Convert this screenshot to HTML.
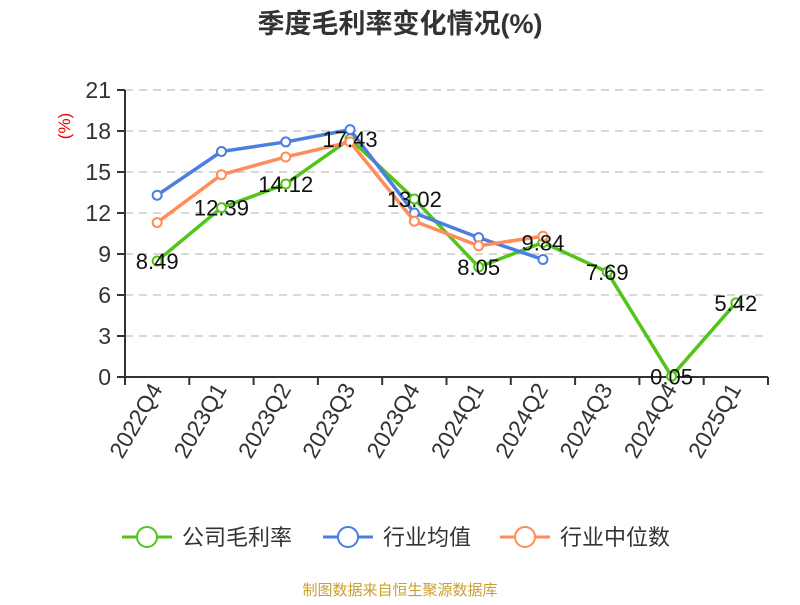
<!DOCTYPE html>
<html><head><meta charset="utf-8"><style>
body{margin:0;background:#fff;font-family:"Liberation Sans","Noto Sans CJK SC",sans-serif}
</style></head><body>
<svg id="c" width="800" height="600" font-family="Liberation Sans, Noto Sans CJK SC, sans-serif">
<text x="400" y="33" text-anchor="middle" font-size="27" font-weight="bold" fill="#333">季度毛利率变化情况(%)</text>
<text transform="translate(70,126) rotate(-90)" text-anchor="middle" font-size="17" fill="#e00">(%)</text>
<g id="grid"></g><g id="axes"></g><g id="series"></g><g id="labels"></g>
<g>
<g><line x1="122" y1="537" x2="172" y2="537" stroke="#52c41a" stroke-width="3"/><circle cx="147" cy="537" r="10" fill="#fff" stroke="#52c41a" stroke-width="2"/><text x="182" y="545" font-size="22" fill="#333">公司毛利率</text></g>
<g><line x1="323" y1="537" x2="373" y2="537" stroke="#4a7fe0" stroke-width="3"/><circle cx="348" cy="537" r="10" fill="#fff" stroke="#4a7fe0" stroke-width="2"/><text x="383" y="545" font-size="22" fill="#333">行业均值</text></g>
<g><line x1="500" y1="537" x2="550" y2="537" stroke="#ff8c5a" stroke-width="3"/><circle cx="525" cy="537" r="10" fill="#fff" stroke="#ff8c5a" stroke-width="2"/><text x="560" y="545" font-size="22" fill="#333">行业中位数</text></g>
</g>
<text x="400" y="595" text-anchor="middle" font-size="15" fill="#c8a030">制图数据来自恒生聚源数据库</text>
</svg>
<script>
const categories=["2022Q4","2023Q1","2023Q2","2023Q3","2023Q4","2024Q1","2024Q2","2024Q3","2024Q4","2025Q1"];
const company=[8.49,12.39,14.12,17.43,13.02,8.05,9.84,7.69,0.05,5.42];
const industryAvg=[13.3,16.5,17.2,18.1,12.0,10.2,8.6];
const industryMedian=[11.3,14.8,16.1,17.2,11.4,9.6,10.3];
const yTicks=[0,3,6,9,12,15,18,21];
const NS="http://www.w3.org/2000/svg";
const x0=125,x1=768,y0=377,yT=90,yMax=21;
const bw=(x1-x0)/categories.length;
const X=i=>x0+bw*(i+0.5);
const Y=v=>y0-(v/yMax)*(y0-yT);
function mk(tag,attrs,parent){const e=document.createElementNS(NS,tag);for(const k in attrs)e.setAttribute(k,attrs[k]);parent.appendChild(e);return e;}
const grid=document.getElementById('grid'),axes=document.getElementById('axes'),ser=document.getElementById('series'),lab=document.getElementById('labels');
yTicks.forEach(t=>{
 if(t>0){const l=mk('line',{x1:x0,x2:x1,y1:Y(t),y2:Y(t),stroke:'#ccc','stroke-width':1.5,'stroke-dasharray':'8,6'},grid);
 
 }
 const tk=mk('line',{x1:x0-8,x2:x0,y1:Y(t),y2:Y(t),stroke:'#333','stroke-width':2},axes);
 
 
 const tx=mk('text',{x:x0-14,y:Y(t)+8,'text-anchor':'end','font-size':23,fill:'#333'},axes);tx.textContent=t;
 
 
});
const ya=mk('line',{x1:x0,x2:x0,y1:yT,y2:y0,stroke:'#333','stroke-width':2},axes);


const xa=mk('line',{x1:x0,x2:x1,y1:y0,y2:y0,stroke:'#333','stroke-width':2},axes);


for(let i=0;i<=categories.length;i++){const t=mk('line',{x1:x0+bw*i,x2:x0+bw*i,y1:y0,y2:y0+8,stroke:'#333','stroke-width':2},axes);
 
 }
categories.forEach((c,i)=>{const t=mk('text',{transform:`translate(${X(i)+6},${y0+12}) rotate(-60)`,'text-anchor':'end','font-size':23,fill:'#333'},axes);t.textContent=c;
 
 });
function series(data,color,name){
 const g=mk('g',{},ser);
 
 
 const p=mk('polyline',{points:data.map((v,i)=>X(i)+','+Y(v)).join(' '),fill:'none',stroke:color,'stroke-width':3.5,'stroke-linejoin':'round'},g);
 
 
 data.forEach((v,i)=>{const c=mk('circle',{cx:X(i),cy:Y(v),r:4.5,fill:'#fff',stroke:color,'stroke-width':2},g);
  
  });
}
series(company,'#52c41a','company-margin');
series(industryAvg,'#4a7fe0','industry-average');
series(industryMedian,'#ff8c5a','industry-median');
company.forEach((v,i)=>{const t=mk('text',{x:X(i),y:Y(v)+8,'text-anchor':'middle','font-size':22,fill:'#111'},lab);t.textContent=v.toFixed(2);
 
 });
</script>
</body></html>
